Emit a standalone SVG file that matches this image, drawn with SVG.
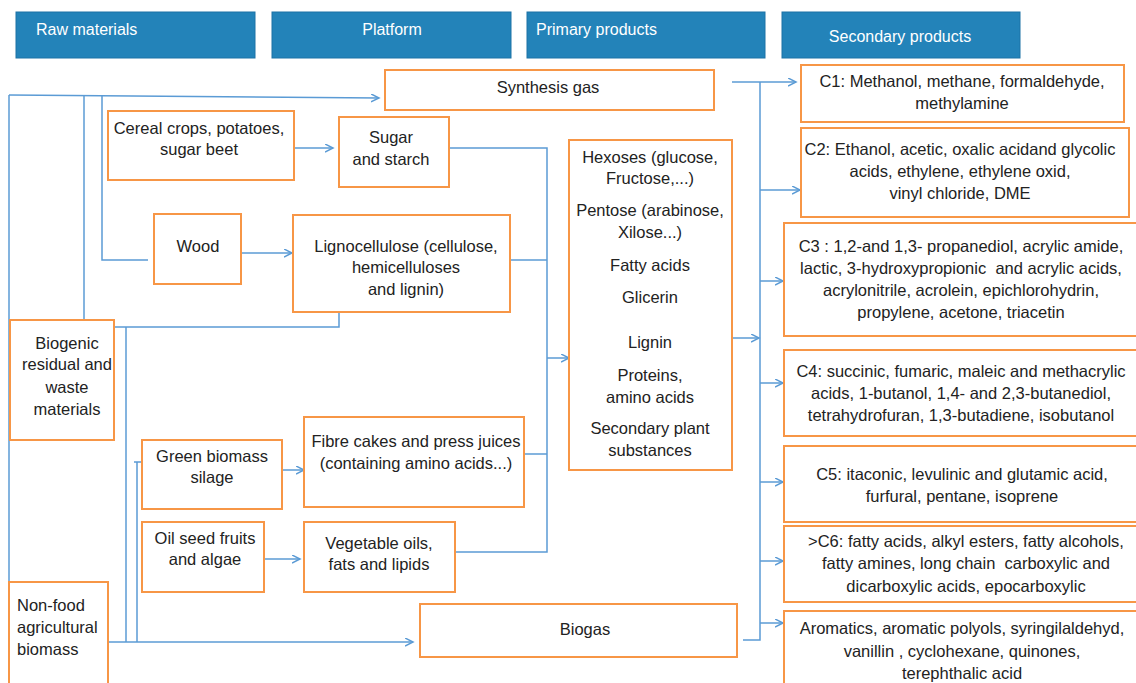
<svg xmlns="http://www.w3.org/2000/svg" width="1136" height="683" viewBox="0 0 1136 683">
<style>
.hdr{fill:#2383B9;stroke:#1D72A6;stroke-width:1}
.ht{font-family:"Liberation Sans",Arial,sans-serif;font-size:16px;fill:#ffffff}
.box{fill:#ffffff;stroke:#F79646;stroke-width:2}
.t{font-family:"Liberation Sans",Arial,sans-serif;font-size:16.5px;fill:#222222;text-anchor:middle}
.tl{text-anchor:start}
.c{fill:none;stroke:#5B9BD5;stroke-width:1.5}
.a{marker-end:url(#arr)}
</style>
<defs>
<marker id="arr" markerUnits="userSpaceOnUse" markerWidth="10" markerHeight="10" refX="8" refY="4" orient="auto">
<path d="M0,0 L8,4 L0,8" fill="none" stroke="#5B9BD5" stroke-width="1.5"/>
</marker>
</defs>
<rect width="1136" height="683" fill="#ffffff"/>

<g id="headers">
<g id="h-raw"><rect class="hdr" x="16" y="12" width="239" height="46"/><text class="ht" x="36" y="35">Raw materials</text></g>
<g id="h-platform"><rect class="hdr" x="272" y="12" width="239" height="46"/><text class="ht" x="392" y="35" text-anchor="middle">Platform</text></g>
<g id="h-primary"><rect class="hdr" x="527" y="12" width="238" height="46"/><text class="ht" x="536" y="35">Primary products</text></g>
<g id="h-secondary"><rect class="hdr" x="782" y="12" width="238" height="46"/><text class="ht" x="900" y="42" text-anchor="middle">Secondary products</text></g>
</g>

<g id="connectors">
<path class="c a" d="M9,95 L379,98"/>
<path class="c" d="M9,95 L9,582"/>
<path class="c" d="M84,95 L84,320"/>
<path class="c" d="M102,95 L102,260 L148,260"/>
<path class="c" d="M339,312 L339,327 L114,327"/>
<path class="c" d="M126,327 L126,642"/>
<path class="c a" d="M108,642 L413,642"/>
<path class="c" d="M137,642 L137,462 M134,462 L142,462"/>
<path class="c a" d="M294,148 L333,148"/>
<path class="c a" d="M235,253 L292,253"/>
<path class="c a" d="M282,470 L304,470"/>
<path class="c a" d="M264,559 L300,559"/>
<path class="c" d="M449,148 L547,148 L547,552 L455,552"/>
<path class="c" d="M510,260 L547,260"/>
<path class="c" d="M524,454 L547,454"/>
<path class="c a" d="M547,358 L569,358"/>
<path class="c a" d="M732,338 L759,338"/>
<path class="c a" d="M732,82 L796,82"/>
<path class="c" d="M760,82 L760,640 L743,640"/>
<path class="c a" d="M760,190 L800,190"/>
<path class="c a" d="M760,281 L783,281"/>
<path class="c a" d="M760,383 L783,383"/>
<path class="c a" d="M760,482 L783,482"/>
<path class="c a" d="M760,561 L783,561"/>
<path class="c a" d="M760,623 L783,623"/>
</g>

<g id="n-synthesis"><rect class="box" x="385" y="70" width="329" height="40"/><text class="t" x="548" y="93">Synthesis gas</text></g>
<g id="n-cereal"><rect class="box" x="108" y="111" width="186" height="69"/><text class="t" x="199" y="134">Cereal crops, potatoes,</text><text class="t" x="199" y="155">sugar beet</text></g>
<g id="n-sugar"><rect class="box" x="339" y="117" width="110" height="70"/><text class="t" x="391" y="143">Sugar</text><text class="t" x="391" y="165">and starch</text></g>
<g id="n-wood"><rect class="box" x="154" y="214" width="87" height="70"/><text class="t" x="198" y="252">Wood</text></g>
<g id="n-ligno"><rect class="box" x="293" y="215" width="217" height="97"/><text class="t" x="406" y="252">Lignocellulose (cellulose,</text><text class="t" x="406" y="273">hemicelluloses</text><text class="t" x="406" y="295">and lignin)</text></g>
<g id="n-biogenic"><rect class="box" x="10" y="320" width="104" height="120"/><text class="t" x="67" y="349">Biogenic</text><text class="t" x="67" y="370">residual and</text><text class="t" x="67" y="393">waste</text><text class="t" x="67" y="415">materials</text></g>
<g id="n-green"><rect class="box" x="142" y="440" width="140" height="69"/><text class="t" x="212" y="462">Green biomass</text><text class="t" x="212" y="483">silage</text></g>
<g id="n-oil"><rect class="box" x="142" y="522" width="122" height="70"/><text class="t" x="205" y="544">Oil seed fruits</text><text class="t" x="205" y="565">and algae</text></g>
<g id="n-nonfood"><rect class="box" x="9" y="582" width="99" height="110"/><text class="t tl" x="17" y="611">Non-food</text><text class="t tl" x="17" y="633">agricultural</text><text class="t tl" x="17" y="655">biomass</text></g>
<g id="n-fibre"><rect class="box" x="304" y="417" width="220" height="90"/><text class="t" x="416" y="447">Fibre cakes and press juices</text><text class="t" x="416" y="469">(containing amino acids...)</text></g>
<g id="n-veg"><rect class="box" x="304" y="522" width="151" height="70"/><text class="t" x="379" y="549">Vegetable oils,</text><text class="t" x="379" y="570">fats and lipids</text></g>
<g id="n-biogas"><rect class="box" x="420" y="604" width="317" height="53"/><text class="t" x="585" y="635">Biogas</text></g>
<g id="n-primary"><rect class="box" x="569" y="140" width="163" height="330"/>
<text class="t" x="650" y="163">Hexoses (glucose,</text>
<text class="t" x="650" y="184">Fructose,...)</text>
<text class="t" x="650" y="216">Pentose (arabinose,</text>
<text class="t" x="650" y="238">Xilose...)</text>
<text class="t" x="650" y="271">Fatty acids</text>
<text class="t" x="650" y="303">Glicerin</text>
<text class="t" x="650" y="348">Lignin</text>
<text class="t" x="650" y="381">Proteins,</text>
<text class="t" x="650" y="403">amino acids</text>
<text class="t" x="650" y="434">Secondary plant</text>
<text class="t" x="650" y="456">substances</text>
</g>
<g id="n-c1"><rect class="box" x="801" y="65" width="323" height="57"/><text class="t" x="962" y="87">C1: Methanol, methane, formaldehyde,</text><text class="t" x="962" y="109">methylamine</text></g>
<g id="n-c2"><rect class="box" x="801" y="128" width="328" height="89"/><text class="t" x="960" y="155">C2: Ethanol, acetic, oxalic acidand glycolic</text><text class="t" x="960" y="177">acids, ethylene, ethylene oxid,</text><text class="t" x="960" y="199">vinyl chloride, DME</text></g>
<g id="n-c3"><rect class="box" x="784" y="223" width="360" height="113"/><text class="t" x="961" y="252">C3 : 1,2-and 1,3- propanediol, acrylic amide,</text><text class="t" x="961" y="274">lactic, 3-hydroxypropionic&#160; and acrylic acids,</text><text class="t" x="961" y="296">acrylonitrile, acrolein, epichlorohydrin,</text><text class="t" x="961" y="318">propylene, acetone, triacetin</text></g>
<g id="n-c4"><rect class="box" x="784" y="350" width="360" height="86"/><text class="t" x="961" y="377">C4: succinic, fumaric, maleic and methacrylic</text><text class="t" x="961" y="399">acids, 1-butanol, 1,4- and 2,3-butanediol,</text><text class="t" x="961" y="421">tetrahydrofuran, 1,3-butadiene, isobutanol</text></g>
<g id="n-c5"><rect class="box" x="784" y="446" width="360" height="76"/><text class="t" x="962" y="480">C5: itaconic, levulinic and glutamic acid,</text><text class="t" x="962" y="502">furfural, pentane, isoprene</text></g>
<g id="n-c6"><rect class="box" x="784" y="526" width="360" height="76"/><text class="t" x="966" y="547">&gt;C6: fatty acids, alkyl esters, fatty alcohols,</text><text class="t" x="966" y="569">fatty amines, long chain&#160; carboxylic and</text><text class="t" x="966" y="592">dicarboxylic acids, epocarboxylic</text></g>
<g id="n-arom"><rect class="box" x="784" y="611" width="360" height="80"/><text class="t" x="962" y="634">Aromatics, aromatic polyols, syringilaldehyd,</text><text class="t" x="962" y="657">vanillin , cyclohexane, quinones,</text><text class="t" x="962" y="679">terephthalic acid</text></g>
</svg>
